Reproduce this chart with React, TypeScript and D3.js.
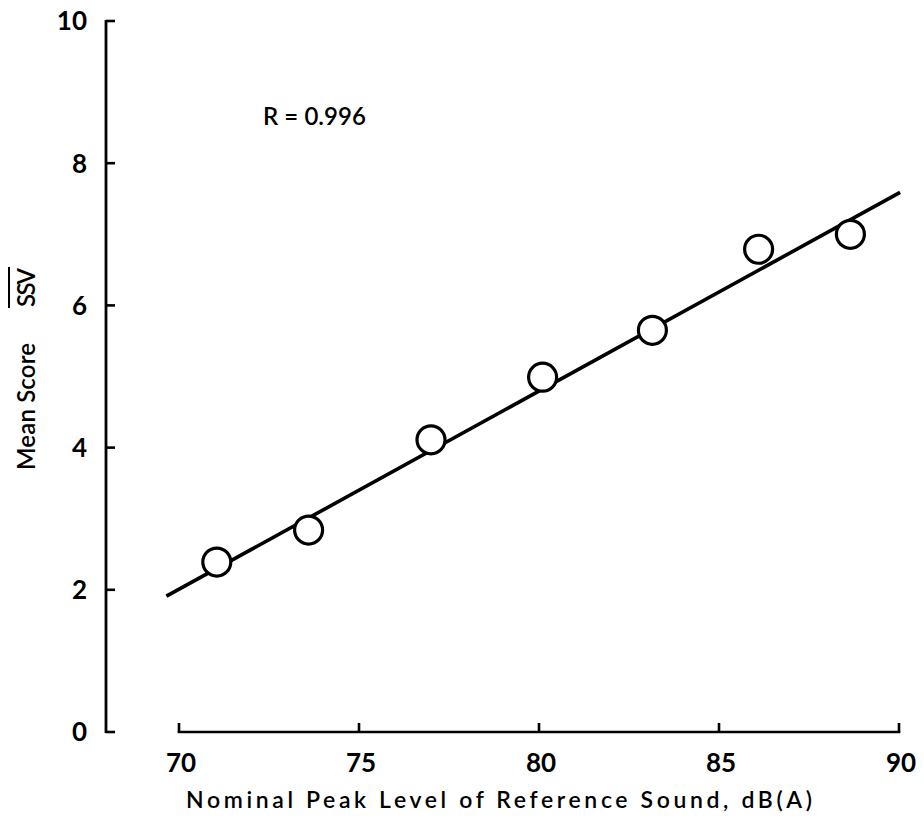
import React from "react";
import * as d3 from "d3";

const levels = [71.05, 73.6, 77.0, 80.1, 83.15, 86.1, 88.65];
const scores = [2.39, 2.84, 4.11, 4.99, 5.65, 6.79, 7.0];
const fitX = [69.65, 90.03];
const fitY = [1.91, 7.59];
const xTicks = [70, 75, 80, 85, 90];
const yTicks = [0, 2, 4, 6, 8, 10];
const xTitle = "Nominal Peak Level of Reference Sound, dB(A)";
const yTitleMain = "Mean Score";
const yTitleBar = "SSV";
const rLabel = "R = 0.996";

const W = 924;
const H = 833;
const FONT = "Lato, 'DejaVu Sans', sans-serif";

export default function App() {
  const x = d3.scaleLinear().domain([70, 90]).range([179, 899]);
  const y = d3.scaleLinear().domain([0, 10]).range([732, 21]);
  const axisX = 106;
  const line = d3
    .line<number>()
    .x((_, i) => x(fitX[i]))
    .y((d) => y(d));

  return (
    <svg
      width={W}
      height={H}
      style={{ position: "absolute", left: 0, top: 0, background: "#fff" }}
      fontFamily={FONT}
    >
      <rect width={W} height={H} fill="#fff" />
      {/* Y axis */}
      <line x1={axisX} x2={axisX} y1={y(10) - 1} y2={y(0) + 1} stroke="#000" strokeWidth={2.8} />
      {yTicks.map((t) => (
        <g key={"yt" + t}>
          <line x1={axisX} x2={axisX + 9} y1={y(t)} y2={y(t)} stroke="#000" strokeWidth={2.6} />
          <text x={87} y={y(t)} dy="0.36em" textAnchor="end" fontSize={26} fontWeight={700} fill="#000">
            {t}
          </text>
        </g>
      ))}
      {/* X axis */}
      <line x1={x(70) - 1.3} x2={x(90) + 1.3} y1={732} y2={732} stroke="#000" strokeWidth={2.6} />
      {xTicks.map((t) => (
        <g key={"xt" + t}>
          <line x1={x(t)} x2={x(t)} y1={732} y2={723} stroke="#000" strokeWidth={2.6} />
          <text x={x(t) + 2} y={772} textAnchor="middle" fontSize={26} fontWeight={700} fill="#000">
            {t}
          </text>
        </g>
      ))}
      {/* Axis titles */}
      <text
        x={186}
        y={808}
        fontSize={23}
        fontWeight={600}
        fill="#000"
        textLength={626}
        lengthAdjust="spacing"
      >
        {xTitle}
      </text>
      <g transform="translate(35,0) rotate(-90)">
        <text
          x={-470}
          y={0}
          fontSize={24}
          fontWeight={600}
          fill="#000"
          textLength={127}
          lengthAdjust="spacing"
        >
          {yTitleMain}
        </text>
        <text
          x={-307}
          y={0}
          fontSize={24}
          fontWeight={600}
          fill="#000"
          textLength={39}
          lengthAdjust="spacing"
        >
          {yTitleBar}
        </text>
        <line x1={-308} x2={-267} y1={-26} y2={-26} stroke="#000" strokeWidth={2} />
      </g>
      {/* R label */}
      <text x={263} y={125} fontSize={24} fontWeight={600} fill="#000" textLength={103} lengthAdjust="spacing">
        {rLabel}
      </text>
      {/* Fit line */}
      <path d={line(fitY) || ""} fill="none" stroke="#000" strokeWidth={3.6} />
      {/* Points */}
      {levels.map((lv, i) => (
        <circle
          key={"p" + i}
          cx={x(lv)}
          cy={y(scores[i])}
          r={14}
          fill="#fff"
          stroke="#000"
          strokeWidth={3.2}
        />
      ))}
    </svg>
  );
}
